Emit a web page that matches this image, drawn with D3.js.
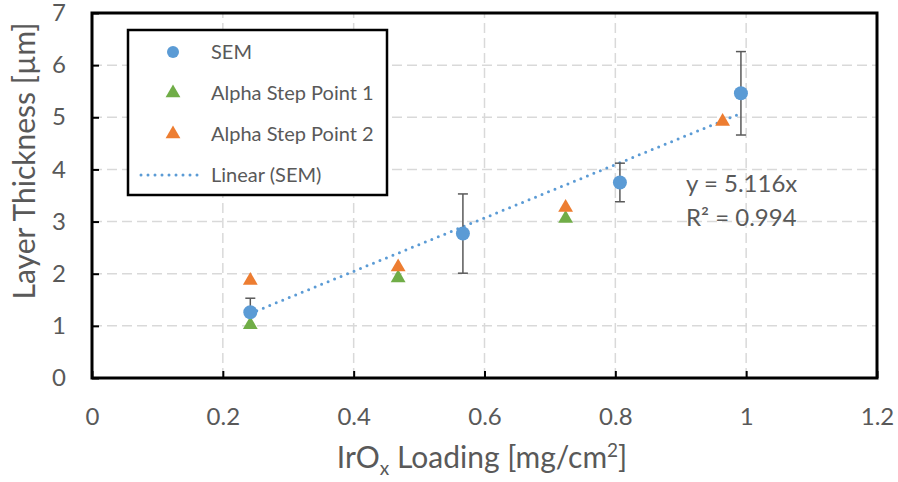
<!DOCTYPE html>
<html lang="en">
<head>
    <meta charset="UTF-8">
    <title>Layer Thickness vs IrOx Loading</title>
    <script src="https://d3js.org/d3.v7.min.js"></script>
    <style>
        body { margin: 0; background: #fff; }
        text { font-family: Lato, "Open Sans", sans-serif; fill: #595959; }
    </style>
</head>
<body>
<svg width="898" height="482"></svg>
<script>
    // data
    let semX = [0.242, 0.567, 0.807, 0.992]
    let semY = [1.26, 2.77, 3.75, 5.46]
    let semErr = [0.27, 0.76, 0.37, 0.80]
    let step1X = [0.242, 0.468, 0.724]
    let step1Y = [1.02, 1.92, 3.06]
    let step2X = [0.242, 0.468, 0.724, 0.964]
    let step2Y = [1.87, 2.13, 3.27, 4.92]
    let slope = 5.116
    let xTicks = [0, 0.2, 0.4, 0.6, 0.8, 1, 1.2]
    let yTicks = [0, 1, 2, 3, 4, 5, 6, 7]

    let svg = d3.select('svg')
    let m = {left: 92, top: 13, right: 877, bottom: 378}

    let x = d3.scaleLinear().domain([0, 1.2]).range([m.left, m.right])
    let y = d3.scaleLinear().domain([0, 7]).range([m.bottom, m.top])

    let blue = "#5b9bd5", green = "#70ad47", orange = "#ed7d31"

    // dashed grid
    let grid = svg.append("g")
        .attr("stroke", "#d9d9d9")
        .attr("stroke-width", 1.5)
        .attr("stroke-dasharray", "10,5")
    grid.selectAll(".gy")
        .data(yTicks.filter(d => d > 0 && d < 7))
        .enter().append("line")
        .attr("x1", m.left).attr("x2", m.right)
        .attr("y1", d => y(d)).attr("y2", d => y(d))
    grid.selectAll(".gx")
        .data(xTicks.filter(d => d > 0 && d < 1.2))
        .enter().append("line")
        .attr("y1", m.bottom).attr("y2", m.top)
        .attr("x1", d => x(d)).attr("x2", d => x(d))

    // axes with inside ticks
    let fmt = d3.format("")
    let xAxis = svg.append("g")
        .attr("transform", `translate(0,${m.bottom})`)
        .call(d3.axisBottom(x).tickValues(xTicks).tickSizeInner(-7).tickSizeOuter(0).tickPadding(30).tickFormat(fmt))
    let yAxis = svg.append("g")
        .attr("transform", `translate(${m.left},0)`)
        .call(d3.axisLeft(y).tickValues(yTicks).tickSizeInner(-7).tickSizeOuter(0).tickPadding(26).tickFormat(fmt))
    for (let a of [xAxis, yAxis]) {
        a.select(".domain").remove()
        a.selectAll("line").attr("stroke", "#000").attr("stroke-width", 2)
        a.selectAll("text").style("font-size", "24px").attr("fill", "#595959")
    }

    // frame
    svg.append("rect")
        .attr("x", m.left).attr("y", m.top)
        .attr("width", m.right - m.left).attr("height", m.bottom - m.top)
        .attr("fill", "none").attr("stroke", "#000").attr("stroke-width", 3)

    // trendline
    svg.append("line")
        .attr("x1", x(d3.min(semX))).attr("y1", y(slope * d3.min(semX)))
        .attr("x2", x(d3.max(semX))).attr("y2", y(slope * d3.max(semX)))
        .attr("stroke", blue).attr("stroke-width", 3)
        .attr("stroke-linecap", "round")
        .attr("stroke-dasharray", "0,7")

    // error bars
    let eb = svg.append("g").attr("stroke", "#595959").attr("stroke-width", 1.5)
    semX.forEach((d, i) => {
        let top = y(semY[i] + semErr[i]), bot = y(semY[i] - semErr[i])
        eb.append("line").attr("x1", x(d)).attr("x2", x(d)).attr("y1", top).attr("y2", bot)
        eb.append("line").attr("x1", x(d) - 5).attr("x2", x(d) + 5).attr("y1", top).attr("y2", top)
        eb.append("line").attr("x1", x(d) - 5).attr("x2", x(d) + 5).attr("y1", bot).attr("y2", bot)
    })

    let tri = d3.symbol().type(d3.symbolTriangle).size(95)

    svg.append("g").selectAll("path")
        .data(step1X.map((d, i) => [d, step1Y[i]]))
        .enter().append("path")
        .attr("d", tri)
        .attr("transform", d => `translate(${x(d[0])},${y(d[1])})`)
        .attr("fill", green)

    svg.append("g").selectAll("path")
        .data(step2X.map((d, i) => [d, step2Y[i]]))
        .enter().append("path")
        .attr("d", tri)
        .attr("transform", d => `translate(${x(d[0])},${y(d[1])})`)
        .attr("fill", orange)

    svg.append("g").selectAll("circle")
        .data(semX.map((d, i) => [d, semY[i]]))
        .enter().append("circle")
        .attr("cx", d => x(d[0])).attr("cy", d => y(d[1]))
        .attr("r", 7)
        .attr("fill", blue)

    // equation
    svg.append("text").attr("x", 686).attr("y", 192)
        .style("font-size", "24px").text("y = 5.116x")
    svg.append("text").attr("x", 686).attr("y", 226)
        .style("font-size", "24px").text("R² = 0.994")

    // legend
    let lg = svg.append("g")
    lg.append("rect").attr("x", 128).attr("y", 30).attr("width", 259).attr("height", 165)
        .attr("fill", "#fff").attr("stroke", "#000").attr("stroke-width", 2.5)
    let items = [
        {name: "SEM", kind: "circle", color: blue},
        {name: "Alpha Step Point 1", kind: "tri", color: green},
        {name: "Alpha Step Point 2", kind: "tri", color: orange},
        {name: "Linear (SEM)", kind: "line", color: blue}
    ]
    items.forEach((it, i) => {
        let cy = 52 + i * 41
        if (it.kind == "circle") {
            lg.append("circle").attr("cx", 173).attr("cy", cy).attr("r", 6).attr("fill", it.color)
        } else if (it.kind == "tri") {
            lg.append("path").attr("d", tri).attr("transform", `translate(173,${cy})`).attr("fill", it.color)
        } else {
            lg.append("line").attr("x1", 141).attr("x2", 204).attr("y1", cy).attr("y2", cy)
                .attr("stroke", it.color).attr("stroke-width", 3)
                .attr("stroke-linecap", "round").attr("stroke-dasharray", "0,7")
        }
        lg.append("text").attr("x", 211).attr("y", cy + 7)
            .style("font-size", "20px").text(it.name)
    })

    // axis titles
    let xt = svg.append("text")
        .attr("x", 482).attr("y", 468)
        .attr("text-anchor", "middle")
        .style("font-size", "30px")
    xt.append("tspan").text("IrO")
    xt.append("tspan").attr("dy", 7).style("font-size", "19px").text("x")
    xt.append("tspan").attr("dy", -7).text(" Loading [mg/cm")
    xt.append("tspan").attr("dy", -11).style("font-size", "19px").text("2")
    xt.append("tspan").attr("dy", 11).text("]")

    svg.append("text")
        .attr("transform", "translate(35,161) rotate(-90)")
        .attr("text-anchor", "middle")
        .style("font-size", "30px")
        .text("Layer Thickness [µm]")
</script>
</body>
</html>
